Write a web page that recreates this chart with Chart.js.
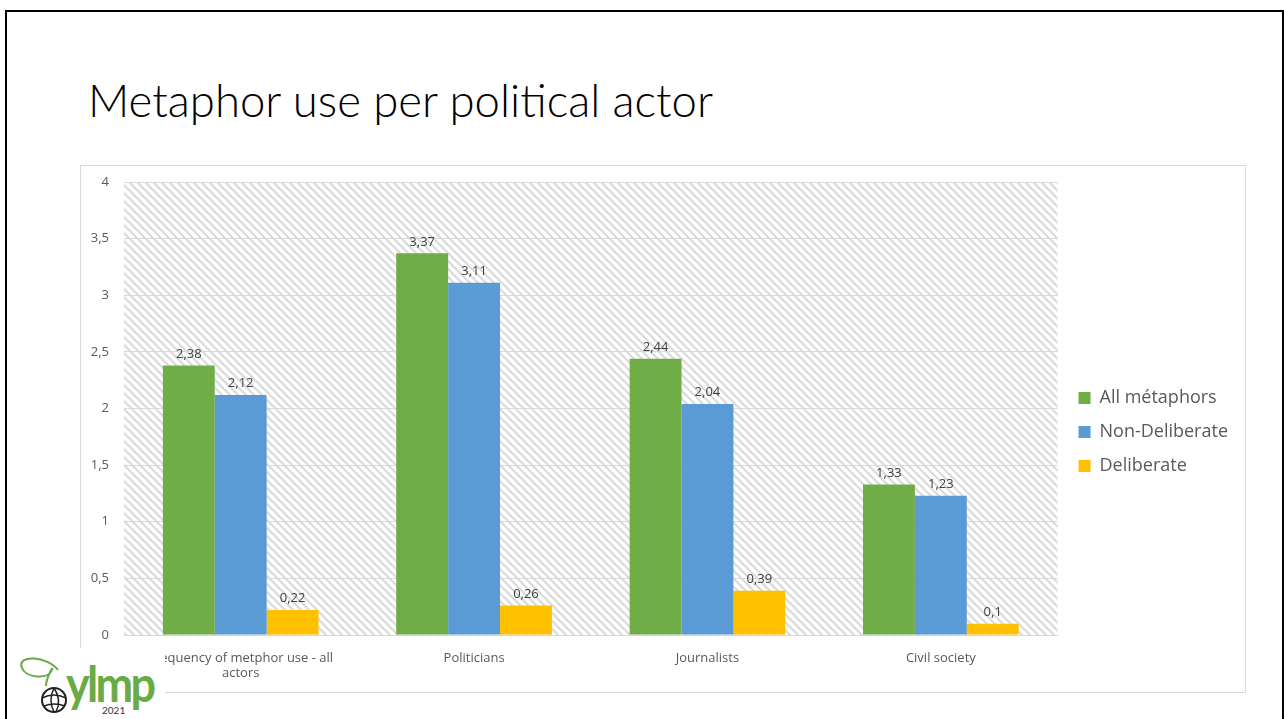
<!DOCTYPE html>
<html>
<head>
<meta charset="utf-8">
<script src="https://cdn.jsdelivr.net/npm/chart.js@4.4.1/dist/chart.umd.min.js"></script>
<style>
  html, body { margin: 0; padding: 0; background: #fff; overflow: hidden; }
  body { width: 1284px; height: 719px; position: relative; }
  #slide {
    position: absolute; left: 5px; top: 10px; width: 1279px; height: 720px;
    border: 2.5px solid #000; box-sizing: border-box;
  }
  #title {
    position: absolute; left: 88px; top: 72px; margin: 0;
    font-family: Lato, sans-serif; font-weight: 300; font-size: 45.5px; color: #000;
    white-space: nowrap;
  }
  #box {
    position: absolute; left: 80px; top: 165px; width: 1166px; height: 528px;
    border: 1px solid #d9d9d9; box-sizing: border-box; background: #fff;
  }
  #logo {
    position: absolute; left: 8px; top: 648px; width: 157px; height: 71px; background: #fff;
  }
</style>
</head>
<body>
<div id="slide"></div>
<h1 id="title">Metaphor use per political actor</h1>
<div id="box"><canvas id="actorChart"></canvas></div>
<div id="logo">
  <svg width="157" height="71" viewBox="0 0 157 71">
    <path d="M50 22 C 40 8, 8 6, 14 20 C 18 30, 40 32, 44 22 C 46 16, 38 30, 38 38"
          fill="none" stroke="#6aab47" stroke-width="2"/>
    <circle cx="46" cy="52" r="12" fill="none" stroke="#222" stroke-width="2"/>
    <path d="M34 50 Q46 44 58 50 M36 58 Q46 54 57 58 M46 40 Q40 52 46 64 M46 40 Q54 52 48 64"
          fill="none" stroke="#222" stroke-width="1.5"/>
    <text x="58" y="54" font-family="Lato, sans-serif" font-weight="700" font-size="50"
          fill="#6aab47" letter-spacing="-3" transform="translate(58 54) scale(0.9 1) translate(-58 -54)">ylmp</text>
    <text x="94" y="66" font-family="Lato, sans-serif" font-size="10" fill="#333">2021</text>
  </svg>
</div>
<script>
// Metaphor use per political actor
const actors = [["Frequency of metphor use - all", "actors"], "Politicians", "Journalists", "Civil society"];
const allMetaphors = [2.38, 3.37, 2.44, 1.33];
const nonDeliberate = [2.12, 3.11, 2.04, 1.23];
const deliberate = [0.22, 0.26, 0.39, 0.1];
const yTicks = [0, 0.5, 1, 1.5, 2, 2.5, 3, 3.5, 4];

const fmt = v => String(v).replace(".", ",");

// diagonal hatch for the plot area
const tile = document.createElement("canvas");
tile.width = 8;
tile.height = 8;
const tctx = tile.getContext("2d");
tctx.strokeStyle = "#dadada";
tctx.lineWidth = 2.2;
tctx.beginPath();
tctx.moveTo(-2, -2); tctx.lineTo(10, 10);
tctx.moveTo(-2, 6); tctx.lineTo(2, 10);
tctx.moveTo(6, -2); tctx.lineTo(10, 2);
tctx.stroke();

const hatchBg = {
  id: "hatchBg",
  beforeDraw(chart) {
    const { ctx, chartArea: a } = chart;
    ctx.save();
    ctx.fillStyle = ctx.createPattern(tile, "repeat");
    ctx.fillRect(a.left, a.top, a.right - a.left, a.bottom - a.top);
    ctx.restore();
  },
};

// nudge the legend a little to the right of its default slot
const legendShift = {
  id: "legendShift",
  afterLayout(chart) {
    chart.legend.left += 5;
    chart.legend.right += 5;
  },
};

// value labels above bars
const valueLabels = {
  id: "valueLabels",
  afterDatasetsDraw(chart) {
    const ctx = chart.ctx;
    ctx.save();
    ctx.font = "13px 'Open Sans', sans-serif";
    ctx.fillStyle = "#404040";
    ctx.textAlign = "center";
    ctx.textBaseline = "bottom";
    chart.data.datasets.forEach((ds, i) => {
      chart.getDatasetMeta(i).data.forEach((bar, j) => {
        ctx.fillText(fmt(ds.data[j]), bar.x, bar.y - 5);
      });
    });
    ctx.restore();
  },
};

var ctx = document.getElementById("actorChart").getContext("2d");
var actorChart = new Chart(ctx, {
  type: "bar",
  data: {
    labels: actors,
    datasets: [
      { label: "All métaphors", data: allMetaphors, backgroundColor: "#70ad47" },
      { label: "Non-Deliberate", data: nonDeliberate, backgroundColor: "#5b9bd5" },
      { label: "Deliberate", data: deliberate, backgroundColor: "#ffc000" },
    ],
  },
  options: {
    responsive: true,
    maintainAspectRatio: false,
    animation: false,
    layout: { padding: { top: 16, bottom: 10, right: 12, left: 0 } },
    datasets: { bar: { categoryPercentage: 0.667, barPercentage: 1 } },
    plugins: {
      tooltip: { enabled: false },
      legend: {
        position: "right",
        labels: {
          boxWidth: 12,
          boxHeight: 12,
          padding: 16,
          color: "#595959",
          font: { family: "'Open Sans', sans-serif", size: 18 },
        },
      },
    },
    scales: {
      x: {
        afterFit(scale) {
          scale.height = 47;
        },
        grid: { display: false, drawTicks: false },
        border: { display: true, color: "#d9d9d9" },
        ticks: {
          padding: 15,
          maxRotation: 0,
          autoSkip: false,
          color: "#595959",
          font: { family: "'Open Sans', sans-serif", size: 13 },
        },
      },
      y: {
        min: 0,
        max: 4,
        afterBuildTicks(scale) {
          scale.ticks = yTicks.map(v => ({ value: v }));
        },
        afterFit(scale) {
          scale.width = 43;
          scale.paddingTop = 0;
          scale.paddingBottom = 0;
        },
        grid: { color: "#d9d9d9", drawTicks: false },
        border: { display: false },
        ticks: {
          padding: 15,
          color: "#595959",
          font: { family: "'Open Sans', sans-serif", size: 13 },
          callback: v => fmt(v),
        },
      },
    },
  },
  plugins: [hatchBg, legendShift, valueLabels],
});
</script>
</body>
</html>
